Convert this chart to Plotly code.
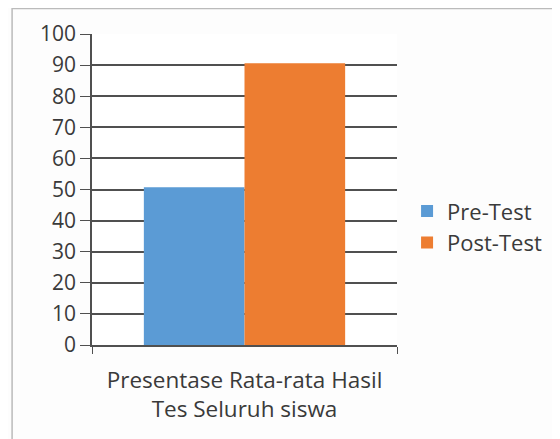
import plotly.graph_objects as go

# Data
categories = ["Presentase Rata-rata Hasil<br>Tes Seluruh siswa"]
pre_test = [50.7]
post_test = [90.6]
y_ticks = [0, 10, 20, 30, 40, 50, 60, 70, 80, 90, 100]

FONT = "Open Sans, Noto Sans, sans-serif"
TEXT = "#3A3A3A"
LINE = "#505050"

fig = go.Figure()
fig.add_trace(go.Bar(x=categories, y=pre_test, name="Pre-Test",
                     marker=dict(color="#5B9BD5", line=dict(width=0))))
fig.add_trace(go.Bar(x=categories, y=post_test, name="Post-Test",
                     marker=dict(color="#ED7D31", line=dict(width=0))))

# page body adds an 8px offset, so margins are shifted by 8
fig.update_layout(
    width=560, height=439,
    barmode="group", bargap=0.34, bargroupgap=0,
    paper_bgcolor="#FDFDFD", plot_bgcolor="#FFFFFF",
    font=dict(family=FONT, color=TEXT),
    margin=dict(l=84, r=171, t=26, b=102, autoexpand=False),
    xaxis=dict(
        tickson="boundaries", ticks="outside", ticklen=7, tickcolor=LINE,
        showline=True, linecolor=LINE, linewidth=1.5, automargin=False,
        tickfont=dict(size=22.5, color=TEXT), showgrid=False,
        ticklabelstandoff=14,
    ),
    yaxis=dict(
        range=[0, 100], tickvals=y_ticks, ticks="outside", ticklen=10,
        tickcolor=LINE, showline=True, linecolor=LINE, linewidth=1.5,
        gridcolor=LINE, gridwidth=1.5, zeroline=False, automargin=False,
        tickfont=dict(size=21, color=TEXT),
    ),
    legend=dict(x=1.033, y=0.379, xanchor="left", yanchor="middle",
                font=dict(size=22, color=TEXT), tracegroupgap=0,
                bgcolor="rgba(0,0,0,0)"),
    shapes=[dict(type="rect", xref="paper", yref="paper",
                 x0=-0.262, x1=1.7, y0=-0.4, y1=1.082,
                 line=dict(color="#BBBBBB", width=1.5))],
)

fig.write_html("out.html")
